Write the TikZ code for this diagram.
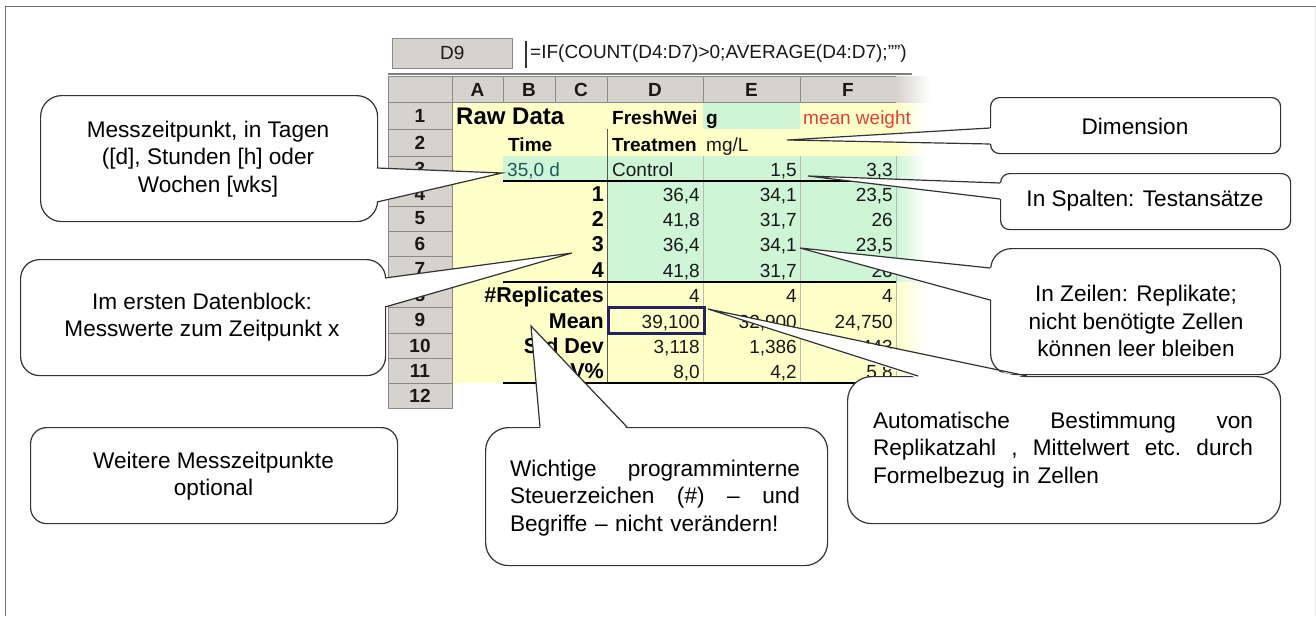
\documentclass[tikz,border=0pt]{standalone}
\usepackage{fontspec}
\setmainfont{Liberation Sans}
\usetikzlibrary{calc}
\definecolor{linec}{HTML}{333333}
\definecolor{yel}{HTML}{FFFFC8}
\definecolor{grn}{HTML}{CDF5D6}
\definecolor{hdrg}{HTML}{D6D3CE}
\definecolor{hdrl}{HTML}{8A8A8A}
\definecolor{navy}{HTML}{23235E}
\definecolor{redt}{HTML}{E0403A}
\definecolor{framec}{HTML}{707070}
\definecolor{teal}{HTML}{1F5A5A}
\newcommand\cfont{\fontsize{22.6}{27.5}\selectfont}
\newcommand\sfont{\fontsize{19}{22}\selectfont}
\newcommand\lfont{\fontsize{21.5}{24}\selectfont}
\begin{document}
\begin{tikzpicture}[x=1pt,y=-1pt,
  cbox/.style={draw=linec, fill=white, line width=1.2pt, inner sep=0pt, anchor=north west},
  wline/.style={draw=linec, line width=1.2pt, line join=miter},
  ctext/.style={font=\cfont, inner sep=0pt, align=center, text=black},
  hcell/.style={draw=hdrl, fill=hdrg, line width=0.6pt},
  hlab/.style={font=\sfont\bfseries, text=black!90, inner sep=0pt},
  cl/.style={font=\sfont, inner sep=0pt, anchor=base west, text=black!90},
  cr/.style={font=\sfont, inner sep=0pt, anchor=base east, text=black!90},
  bl/.style={font=\sfont\bfseries, inner sep=0pt, anchor=base west, text=black},
  br/.style={font=\lfont\bfseries, inner sep=0pt, anchor=base east, text=black},
  tline/.style={draw=black, line width=2.6pt},
  cborder/.style={draw=gray!55, line width=0.8pt},
]
\useasboundingbox (0,0) rectangle (1316,616);
\fill[white] (0,0) rectangle (1316,616);
% frame
\draw[framec, line width=1.5pt] (5.5,616) -- (5.5,6.5) -- (1316,6.5);
\draw[black!10, line width=1pt] (1315.5,6.5) -- (1315.5,616);

% ---------- spreadsheet ----------
% formula bar
\node[draw=hdrl, fill=hdrg, line width=0.6pt, minimum width=120pt, minimum height=30pt, inner sep=0pt, anchor=north west, font=\sfont, text=black!90] (namebox) at (392,38) {D9};
\draw[black!80, line width=1.2pt] (526,41) -- (526,68);
\node[cl, anchor=west] (formula) at (530,54) {=IF(COUNT(D4:D7)>0;AVERAGE(D4:D7);"")};
\draw[gray, line width=1.6pt] (388,74) -- (912,74);

% cell backgrounds
\fill[yel] (452,102) rectangle (896,383);
\fill[grn] (703,102) rectangle (800,129);
\fill[grn] (503,156) rectangle (896,181);
\fill[grn] (607,181) rectangle (896,282);
\shade[left color=yel, right color=white] (896,102) rectangle (926,156);
\shade[left color=grn, right color=white] (896,156) rectangle (926,282);
\shade[left color=yel, right color=white] (896,282) rectangle (926,383);

% column headers
\draw[hcell] (388,76) rectangle (452,102);
\foreach \xa/\xb/\l in {452/503/A,503/555/B,555/607/C,607/703/D,703/800/E,800/896/F}{
  \draw[hcell] (\xa,76) rectangle (\xb,102);
  \node[hlab] (col\l) at ({(\xa+\xb)/2},89.5) {\l};
}
\shade[left color=hdrg, right color=white] (896,76) rectangle (930,102);
% row headers
\foreach \i/\ya/\yb in {1/102/129,2/129/156,3/156/181,4/181/206,5/206/231,6/231/256,7/256/282,8/282/307,9/307/333,10/333/358,11/358/383,12/383/408}{
  \draw[hcell] (388,\ya) rectangle (452,\yb);
  \node[hlab] (row\i) at (420,{(\ya+\yb)/2}) {\i};
}

% borders inside sheet
\draw[draw=black!65, line width=1pt] (607,129) -- (607,383);
\foreach \x in {703,800,896}{\draw[cborder] (\x,156) -- (\x,383);}
\draw[tline] (503,181) -- (896,181);
\draw[tline] (503,282) -- (896,282);
\draw[tline] (503,383) -- (915,383);

% row 1
\node[bl, font=\fontsize{24}{26}\selectfont\bfseries] (a1) at (456,124) {Raw Data};
\node[bl] (d1) at (612,124) {FreshWei};
\node[bl] (e1) at (706,124) {g};
\node[cl, text=redt] (f1) at (803,124) {mean weight};
% row 2
\node[bl] (b2) at (508,151) {Time};
\begin{scope}
  \clip (607,129) rectangle (695,156);
  \node[bl] (d2) at (612,151) {Treatment};
\end{scope}
\node[cl] (e2) at (706,151) {mg/L};
% row 3
\node[cl, text=teal] (b3) at (507,176) {35,0 d};
\node[cl] (d3) at (612,176) {Control};
\node[cr] (e3) at (797,176) {1,5};
\node[cr] (f3) at (893,176) {3,3};
% rows 4-7
\foreach \r/\y/\n/\d/\e/\f in {4/201/1/{36,4}/{34,1}/{23,5}, 5/226/2/{41,8}/{31,7}/{26}, 6/251/3/{36,4}/{34,1}/{23,5}, 7/277/4/{41,8}/{31,7}/{26}}{
  \node[br] (c\r) at (604,\y) {\n};
  \node[cr] (d\r) at (700,\y) {\d};
  \node[cr] (e\r) at (797,\y) {\e};
  \node[cr] (f\r) at (893,\y) {\f};
}
% rows 8-11
\node[br] (c8) at (604,302) {\#Replicates};
\node[cr] (d8) at (700,302) {4};
\node[cr] (e8) at (797,302) {4};
\node[cr] (f8) at (893,302) {4};
\node[br] (c9) at (604,328) {Mean};
\node[cr] (d9) at (700,328) {39,100};
\node[cr] (e9) at (797,328) {32,900};
\node[cr] (f9) at (893,328) {24,750};
\node[br] (c10) at (604,353) {Std Dev};
\node[cr] (d10) at (700,353) {3,118};
\node[cr] (e10) at (797,353) {1,386};
\node[cr] (f10) at (893,353) {1,443};
\node[br] (c11) at (604,378) {CV\%};
\node[cr] (d11) at (700,378) {8,0};
\node[cr] (e11) at (797,378) {4,2};
\node[cr] (f11) at (893,378) {5,8};
% selected cell
\draw[navy, line width=3pt] (608,307) rectangle (704,333);

% ---------- callouts ----------
% C1 Messzeitpunkt
\node[cbox, rounded corners=21pt, minimum width=337pt, minimum height=126pt] (c1) at (40,95) {};
\coordinate (c1a) at (377,168); \coordinate (c1b) at (377,202); \coordinate (c1t) at (502,173);
\fill[white] ($(c1a)+(-2,0)$) -- (c1t) -- ($(c1b)+(-2,0)$) -- cycle;
\draw[wline] (c1a) -- (c1t) -- (c1b);
\node[ctext] (t1) at (208,159) {Messzeitpunkt, in Tagen\\([d], Stunden [h] oder\\Wochen [wks]};

% C2 Im ersten Datenblock
\node[cbox, rounded corners=19pt, minimum width=365pt, minimum height=116pt] (c2) at (20,259) {};
\coordinate (c2a) at (385,278); \coordinate (c2b) at (385,307); \coordinate (c2t) at (572,253);
\fill[white] ($(c2a)+(-2,0)$) -- (c2t) -- ($(c2b)+(-2,0)$) -- cycle;
\draw[wline] (c2a) -- (c2t) -- (c2b);
\node[ctext] (t2) at (202,317) {Im ersten Datenblock:\\Messwerte zum Zeitpunkt x};

% C3 Weitere
\node[cbox, rounded corners=16pt, minimum width=367pt, minimum height=96pt] (c3) at (30,427) {};
\node[ctext] (t3) at (213.5,476) {Weitere Messzeitpunkte\\optional};

% C4 Dimension
\node[cbox, rounded corners=9pt, minimum width=290pt, minimum height=56pt] (c4) at (990,97) {};
\coordinate (c4a) at (990,128); \coordinate (c4b) at (990,144); \coordinate (c4t) at (787,140);
\fill[white] ($(c4a)+(2,0)$) -- (c4t) -- ($(c4b)+(2,0)$) -- cycle;
\draw[wline] (c4a) -- (c4t) -- (c4b);
\node[ctext] (t4) at (1135,126) {Dimension};

% C5 In Spalten
\node[cbox, rounded corners=9pt, minimum width=290pt, minimum height=56pt] (c5) at (1000,173) {};
\coordinate (c5a) at (1000,183); \coordinate (c5b) at (1000,199); \coordinate (c5t) at (808,176);
\fill[white] ($(c5a)+(2,0)$) -- (c5t) -- ($(c5b)+(2,0)$) -- cycle;
\draw[wline] (c5a) -- (c5t) -- (c5b);
\node[ctext] (t5) at (1145,201) {In Spalten: Testansätze};

% C6 In Zeilen
\node[cbox, rounded corners=21pt, minimum width=290pt, minimum height=126pt] (c6) at (990,248) {};
\coordinate (c6a) at (990,268); \coordinate (c6b) at (990,300); \coordinate (c6t) at (800,248);
\fill[white] ($(c6a)+(2,0)$) -- (c6t) -- ($(c6b)+(2,0)$) -- cycle;
\draw[wline] (c6a) -- (c6t) -- (c6b);
\node[ctext] (t6) at (1136,321) {In Zeilen: Replikate;\\nicht benötigte Zellen\\können leer bleiben};

% C7 Automatische
\node[cbox, rounded corners=24pt, minimum width=433pt, minimum height=147pt] (c7) at (847,376) {};
\coordinate (c7a) at (918,376); \coordinate (c7b) at (1027,376); \coordinate (c7t) at (708,309);
\fill[white] ($(c7a)+(0,2)$) -- (c7t) -- ($(c7b)+(0,2)$) -- cycle;
\draw[wline] (c7a) -- (c7t) -- (c7b);
\node[ctext, align=left, text width=380pt] (t7) at (1063,450) {\makebox[380pt][l]{Automatische\hfill Bestimmung\hfill von}\\\makebox[380pt][l]{Replikatzahl\hfill ,\hfill Mittelwert\hfill etc.\hfill durch}\\Formelbezug in Zellen};

% C8 Wichtige
\node[cbox, rounded corners=23pt, minimum width=342pt, minimum height=138pt] (c8) at (485,427) {};
\coordinate (c8a) at (540,427); \coordinate (c8b) at (627,427); \coordinate (c8t) at (531,326);
\fill[white] ($(c8a)+(0,2)$) -- (c8t) -- ($(c8b)+(0,2)$) -- cycle;
\draw[wline] (c8a) -- (c8t) -- (c8b);
\node[ctext, align=left, text width=290pt] (t8) at (655,498) {\makebox[290pt][l]{Wichtige\hfill programminterne}\\\makebox[290pt][l]{Steuerzeichen\hfill (\#)\hfill –\hfill und}\\Begriffe – nicht verändern!};
\end{tikzpicture}
\end{document}
